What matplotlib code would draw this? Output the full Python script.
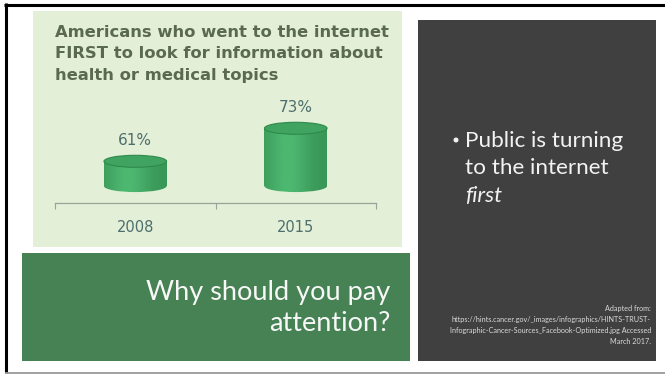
import numpy as np
import matplotlib
matplotlib.use("Agg")
import matplotlib.pyplot as plt
from matplotlib.patches import Rectangle, Ellipse

# chart data
years = ["2008", "2015"]
shares = [61, 73]
title_lines = ["Americans who went to the internet",
               "FIRST to look for information about",
               "health or medical topics"]
bullet_lines = ["Public is turning", "to the internet", "first"]
box_lines = ["Why should you pay", "attention?"]
source_lines = ["Adapted from:",
                "https://hints.cancer.gov/_images/infographics/HINTS-TRUST-",
                "Infographic-Cancer-Sources_Facebook-Optimized.jpg Accessed",
                "March 2017."]

W, H = 665, 376
fig = plt.figure(figsize=(W / 100, H / 100), dpi=100)
fig.patch.set_facecolor("white")

# slide background in pixel coordinates
bg = fig.add_axes([0, 0, 1, 1])
bg.set_xlim(0, W)
bg.set_ylim(H, 0)
bg.axis("off")

bg.plot([4, W], [4.5, 4.5], color="black", lw=2.2, solid_capstyle="butt")
bg.plot([5.5, 5.5], [3, 373], color="black", lw=2.2, solid_capstyle="butt")
bg.plot([5, W], [373, 373], color="#9a9a9a", lw=1.3, solid_capstyle="butt")

bg.add_patch(Rectangle((33, 11), 369, 236, color="#e3efd6", lw=0))
bg.add_patch(Rectangle((22, 253), 388, 108, color="#468254", lw=0))
bg.add_patch(Rectangle((418, 20), 238, 341, color="#404040", lw=0))

for i, line in enumerate(title_lines):
    bg.text(55, 37 + i * 21.5, line, fontsize=11.8, fontweight="bold",
            color="#5a6a50", ha="left", va="baseline", family="DejaVu Sans")

bg.add_patch(Ellipse((456, 140), 5, 5, color="#f2f2f2", lw=0))
for i, line in enumerate(bullet_lines):
    bg.text(465, 147 + i * 27.5, line, fontsize=16.2, color="#f2f2f2", ha="left",
            va="baseline", family="Lato",
            style="italic" if line == "first" else "normal")

for i, line in enumerate(box_lines):
    bg.text(390, 300 + i * 31, line, fontsize=19.5, color="#f7f7f7", ha="right",
            va="baseline", family="Lato")

for i, line in enumerate(source_lines):
    bg.text(651, 311 + i * 11, line, fontsize=5.2, color="#d9d9d9", ha="right",
            va="baseline", family="Lato")

# bar chart (cylinders)
ax = fig.add_axes([55 / W, 1 - 240 / H, 321 / W, 145 / H])
ax.patch.set_alpha(0)
ymin, ymax = 32.4, 85.1
base = 52
axis_y = 45.8
ax.set_xlim(-0.5, 1.5)
ax.set_ylim(ymin, ymax)

px_per_y = 145 / (ymax - ymin)
ell_h = 12 / px_per_y
bar_w = 0.39

grad = np.linspace(0, 1, 200)
shade = 0.55 + 0.45 * np.exp(-((grad - 0.38) / 0.33) ** 2)
cmap = matplotlib.colors.LinearSegmentedColormap.from_list(
    "cyl", ["#1f6e37", "#4db870"])

for x, v in enumerate(shares):
    left = x - bar_w / 2
    body = Rectangle((left, base), bar_w, v - base, fc="none", ec="none")
    bottom = Ellipse((x, base), bar_w, ell_h, fc="none", ec="none")
    ax.add_patch(body)
    ax.add_patch(bottom)
    for clip in (body, bottom):
        im = ax.imshow(shade[np.newaxis, :], cmap=cmap, vmin=0, vmax=1,
                       extent=(left, left + bar_w, base - ell_h, v),
                       aspect="auto", origin="lower", zorder=2)
        im.set_clip_path(clip)
    ax.add_patch(Ellipse((x, v), bar_w, ell_h, fc="#40a360", ec="#2e8a4b",
                         lw=0.8, zorder=3))
    ax.annotate(f"{v}%", (x, v), xytext=(0, 15), textcoords="offset points",
                ha="center", va="center", fontsize=11, color="#4d6e6e",
                family="DejaVu Sans")

ax.set_xlim(-0.5, 1.5)
ax.set_ylim(ymin, ymax)

for s in ["top", "right", "left"]:
    ax.spines[s].set_visible(False)
ax.spines["bottom"].set_position(("data", axis_y))
ax.spines["bottom"].set_color("#9aa39a")
ax.spines["bottom"].set_linewidth(0.9)
ax.set_yticks([])
ax.set_xticks([0, 1])
ax.set_xticklabels(years)
ax.set_xticks([-0.5, 0.5, 1.5], minor=True)
ax.tick_params(axis="x", which="major", length=0, pad=12, labelsize=10.5,
               labelcolor="#4d6e6e")
ax.tick_params(axis="x", which="minor", length=4, width=0.8, color="#9aa39a",
               direction="out")

fig.savefig("out.png", dpi=100, facecolor="white")
